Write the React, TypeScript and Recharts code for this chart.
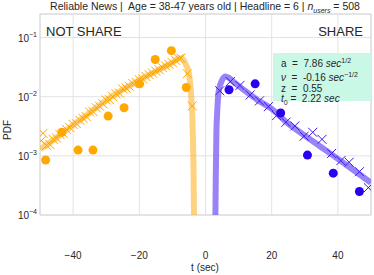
import React from 'react';
import { ComposedChart, Line, Scatter, XAxis, YAxis, CartesianGrid, ReferenceArea } from 'recharts';

// fitted curve, NOT SHARE side (t < 0)
const notShareCurveT = [-50, -45, -40, -35, -30, -25, -20, -15, -10, -8, -7, -6, -5, -4.5, -4.2, -4.0, -3.8, -3.6, -3.45];
const notShareCurvePdf = [1.29e-3, 2.04e-3, 3.31e-3, 5.37e-3, 8.71e-3, 1.32e-2, 1.91e-2, 2.69e-2, 3.8e-2, 4.47e-2, 4.37e-2, 3.55e-2, 2.4e-2, 1.41e-2, 7.9e-3, 5.0e-3, 2.0e-3, 5.0e-4, 6.3e-5];

// fitted curve, SHARE side (t > 0)
const shareCurveT = [2.95, 3.1, 3.3, 3.5, 4.0, 5.0, 6.0, 7.0, 8.6, 12, 15.6, 20, 25, 30, 35, 40, 45, 50];
const shareCurvePdf = [6e-5, 4e-4, 2.6e-3, 5e-3, 1.25e-2, 1.9e-2, 2.2e-2, 2.1e-2, 1.75e-2, 1.25e-2, 8.9e-3, 6.2e-3, 3.5e-3, 2.2e-3, 1.4e-3, 8.9e-4, 5.6e-4, 3.5e-4];

// simulated histogram (crosses)
const notShareSimT = [-49.6, -49.1, -48, -47, -46, -45, -44, -43, -42, -41, -40, -39, -38, -37, -36, -35, -34, -33, -32, -31, -30, -29, -28, -27, -26, -25, -24, -23, -22, -21, -20, -19, -18, -17, -16, -15, -14, -13, -12, -11, -10, -9, -8, -7.4, -5.5, -4.0];
const notShareSimPdf = [1.8e-3, 2.4e-3, 1.5e-3, 1.55e-3, 1.9e-3, 2.0e-3, 2.3e-3, 2.4e-3, 2.8e-3, 3.0e-3, 3.4e-3, 3.5e-3, 4.0e-3, 4.3e-3, 4.6e-3, 5.5e-3, 5.6e-3, 6.5e-3, 6.9e-3, 7.6e-3, 8.8e-3, 8.9e-3, 1.0e-2, 1.12e-2, 1.15e-2, 1.35e-2, 1.4e-2, 1.5e-2, 1.68e-2, 1.75e-2, 1.95e-2, 2.0e-2, 2.2e-2, 2.35e-2, 2.5e-2, 2.7e-2, 2.85e-2, 3.1e-2, 3.3e-2, 3.5e-2, 3.75e-2, 4.1e-2, 4.4e-2, 4.5e-2, 2.45e-2, 7.0e-3];
const shareSimT = [4.3, 7.5, 10.4, 13.5, 16.3, 19.0, 21.5, 24.3, 27.0, 29.8, 32.4, 35.2, 38.1, 40.9, 43.4, 46.5, 49.2];
const shareSimPdf = [1.26e-2, 1.8e-2, 1.55e-2, 1.07e-2, 8.5e-3, 6.8e-3, 4.8e-3, 3.7e-3, 3.2e-3, 2.15e-3, 2.5e-3, 1.9e-3, 1.1e-3, 8.3e-4, 7.8e-4, 5.4e-4, 2.9e-4];

// empirical data (dots)
const notShareObsT = [-48.3, -43.4, -38.5, -34.0, -29.4, -24.6, -19.9, -15.2, -10.3, -5.8];
const notShareObsPdf = [8.5e-4, 2.5e-3, 1.25e-3, 1.25e-3, 4.7e-3, 6.5e-3, 1.65e-2, 4.25e-2, 6.0e-2, 1.43e-2];
const shareObsT = [7.1, 15.0, 22.7, 30.8, 38.6, 46.5];
const shareObsPdf = [1.31e-2, 1.65e-2, 5.3e-3, 1.03e-3, 5.1e-4, 2.5e-4];

const xTicks = [-40, -20, 0, 20, 40];
const yTicks = [1e-4, 1e-3, 1e-2, 1e-1];

const zip = (ts: number[], ps: number[]) => ts.map((t, i) => ({ t, pdf: ps[i] }));

const FONT = '"Liberation Sans", Arial, sans-serif';

const makeCross = (color: string) => (props: any) => {
  const { cx, cy } = props;
  const s = 4.5;
  return (
    <g stroke={color} strokeWidth={1}>
      <line x1={cx - s} y1={cy - s} x2={cx + s} y2={cy + s} />
      <line x1={cx - s} y1={cy + s} x2={cx + s} y2={cy - s} />
    </g>
  );
};

const makeDot = (color: string) => (props: any) => <circle cx={props.cx} cy={props.cy} r={4.5} fill={color} />;

const XTick = (props: any) => {
  const { x, payload } = props;
  const v = payload.value as number;
  return (
    <text x={x} y={255} textAnchor="middle" dominantBaseline="central" fontSize={10} fill="#262626" fontFamily={FONT}>
      {v < 0 ? '\u2212' + Math.abs(v) : String(v)}
    </text>
  );
};

const YTick = (props: any) => {
  const { y, payload } = props;
  const exp = Math.round(Math.log10(payload.value));
  return (
    <text x={37} y={y + 4} textAnchor="end" fontSize={10} fill="#262626" fontFamily={FONT}>
      <tspan>10</tspan>
      <tspan dy={-5} fontSize={7}>{'\u2212' + Math.abs(exp)}</tspan>
    </text>
  );
};

export default function App() {
  return (
    <div style={{ position: 'absolute', left: 0, top: 0, width: 374, height: 275, fontFamily: FONT, color: '#262626' }}>
      <ComposedChart width={374} height={275} margin={{ top: 14, right: 3, bottom: 30, left: 0 }}>
        <CartesianGrid stroke="#e3e3e3" />
        <XAxis
          dataKey="t"
          type="number"
          domain={[-50, 50]}
          ticks={xTicks}
          allowDataOverflow
          axisLine={false}
          tickLine={false}
          height={30}
          tick={<XTick />}
        />
        <YAxis
          type="number"
          scale="log"
          domain={[1e-4, 0.25]}
          ticks={yTicks}
          allowDataOverflow
          axisLine={false}
          tickLine={false}
          width={40}
          tick={<YTick />}
        />
        <ReferenceArea x1={-50} x2={50} y1={1e-4} y2={0.25} fill="none" stroke="#d6d6d6" strokeWidth={1} />
        <Line data={zip(notShareCurveT, notShareCurvePdf)} dataKey="pdf" type="monotone" stroke="#ffa500" strokeOpacity={0.5} strokeWidth={6} dot={false} isAnimationActive={false} />
        <Line data={zip(shareCurveT, shareCurvePdf)} dataKey="pdf" type="monotone" stroke="#6f4ef5" strokeOpacity={0.7} strokeWidth={6} dot={false} isAnimationActive={false} />
        <Scatter data={zip(notShareSimT, notShareSimPdf)} dataKey="pdf" shape={makeCross('#ffa500')} isAnimationActive={false} />
        <Scatter data={zip(shareSimT, shareSimPdf)} dataKey="pdf" shape={makeCross('#3a18f0')} isAnimationActive={false} />
        <Scatter data={zip(notShareObsT, notShareObsPdf)} dataKey="pdf" shape={makeDot('#ffa800')} isAnimationActive={false} />
        <Scatter data={zip(shareObsT, shareObsPdf)} dataKey="pdf" shape={makeDot('#2a00f0')} isAnimationActive={false} />
      </ComposedChart>

      <div style={{ position: 'absolute', left: 205, top: 7, transform: 'translate(-50%, -50%)', whiteSpace: 'nowrap', fontSize: 10.5 }}>
        Reliable News |&nbsp; Age = 38-47 years old | Headline = 6 | <i>n</i><sub style={{ fontSize: 7, fontStyle: 'italic' }}>users</sub> = 508
      </div>
      <div style={{ position: 'absolute', left: 46, top: 31, transform: 'translateY(-50%)', fontSize: 13, whiteSpace: 'nowrap' }}>NOT SHARE</div>
      <div style={{ position: 'absolute', right: 11, top: 31, transform: 'translateY(-50%)', fontSize: 13, whiteSpace: 'nowrap' }}>SHARE</div>

      <div style={{ position: 'absolute', left: 273, top: 53, width: 98, height: 48, background: '#c9f8e6', fontSize: 10, lineHeight: '10.5px', boxSizing: 'border-box', padding: '3px 0 0 8px', whiteSpace: 'nowrap' }}>
        <div>a&nbsp; = &nbsp;7.86 <i>sec</i><sup style={{ fontSize: 7 }}>1/2</sup></div>
        <div><i>ν</i>&nbsp; = &nbsp;-0.16 <i>sec</i><sup style={{ fontSize: 7 }}>−1/2</sup></div>
        <div>z&nbsp; = &nbsp;0.55</div>
        <div><i>t</i><sub style={{ fontSize: 7 }}>0</sub> = &nbsp;2.22 <i>sec</i></div>
      </div>

      <div style={{ position: 'absolute', left: 7, top: 130, transform: 'translate(-50%, -50%) rotate(-90deg)', fontSize: 10 }}>PDF</div>
      <div style={{ position: 'absolute', left: 205, top: 267, transform: 'translate(-50%, -50%)', fontSize: 10, whiteSpace: 'nowrap' }}>t (sec)</div>
    </div>
  );
}
